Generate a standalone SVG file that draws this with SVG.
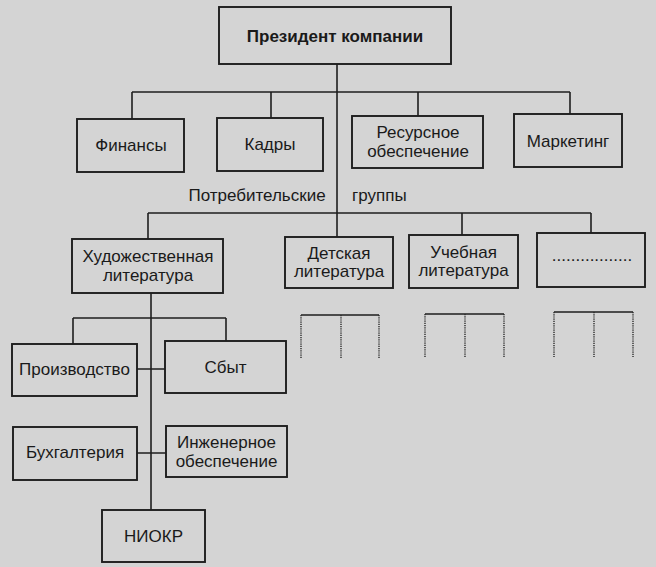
<svg xmlns="http://www.w3.org/2000/svg" width="656" height="567" viewBox="0 0 656 567">
<style>
.bg{fill:#d4d4d4}
.box{fill:#d4d4d4;stroke:#1e1e1e;stroke-width:1.9}
.ln{stroke:#1e1e1e;stroke-width:1.6;fill:none}
.dot{stroke:#2a2a2a;stroke-width:1.4;stroke-dasharray:1.2 1;fill:none}
text{font-family:"Liberation Sans",Arial,sans-serif;font-size:17px;fill:#1a1a1a;text-anchor:middle}
.b{font-weight:bold}
.l{text-anchor:start}
</style>
<rect class="bg" x="0" y="0" width="656" height="567"/>
<g id="connectors">
<path class="ln" d="M337 64V237"/>
<path class="ln" d="M132 92H570M132 92V119M271 92V118M418 92V116M570 92V114"/>
<path class="ln" d="M148 213H591M148 213V239M462 213V235M591 213V233"/>
<path class="ln" d="M151 293V510"/>
<path class="ln" d="M73 318H226M73 318V344M226 318V341"/>
<path class="ln" d="M137 369H165M137 453H166"/>
<path class="ln" d="M301 315H379M425 314H504M554 312H633"/>
<path class="dot" d="M301 315V359M341 315V359M379 315V359M425 314V358M465 314V358M504 314V358M554 312V357M594 312V357M633 312V357"/>
</g>
<g id="president"><rect class="box" x="219" y="7" width="232" height="57"/><text class="b" x="335" y="42">Президент компании</text></g>
<g id="finance"><rect class="box" x="77" y="119" width="107" height="53"/><text x="131" y="151">Финансы</text></g>
<g id="hr"><rect class="box" x="217" y="118" width="106" height="53"/><text x="270" y="150">Кадры</text></g>
<g id="resources"><rect class="box" x="352" y="116" width="131" height="52"/><text x="418" y="138">Ресурсное</text><text x="418" y="157">обеспечение</text></g>
<g id="marketing"><rect class="box" x="514" y="114" width="108" height="53"/><text x="568" y="147">Маркетинг</text></g>
<g id="consumer-groups-label"><text x="257" y="201">Потребительские</text><text class="l" x="352" y="201">группы</text></g>
<g id="fiction"><rect class="box" x="72" y="239" width="151" height="54"/><text x="148" y="262">Художественная</text><text x="148" y="281">литература</text></g>
<g id="children"><rect class="box" x="285" y="237" width="108" height="51"/><text x="339" y="259">Детская</text><text x="339" y="277">литература</text></g>
<g id="educational"><rect class="box" x="409" y="235" width="109" height="53"/><text x="463.5" y="258">Учебная</text><text x="463.5" y="276">литература</text></g>
<g id="other"><rect class="box" x="537" y="233" width="108" height="54"/><text x="592" y="261">.................</text></g>
<g id="production"><rect class="box" x="12" y="344" width="125" height="52"/><text x="74.5" y="375">Производство</text></g>
<g id="sales"><rect class="box" x="165" y="341" width="121" height="52"/><text x="225.5" y="373">Сбыт</text></g>
<g id="accounting"><rect class="box" x="13" y="427" width="124" height="53"/><text x="75" y="458">Бухгалтерия</text></g>
<g id="engineering"><rect class="box" x="166" y="426" width="121" height="51"/><text x="226.5" y="448">Инженерное</text><text x="226.5" y="467">обеспечение</text></g>
<g id="rnd"><rect class="box" x="102" y="510" width="103" height="52"/><text x="153.5" y="542">НИОКР</text></g>
</svg>
